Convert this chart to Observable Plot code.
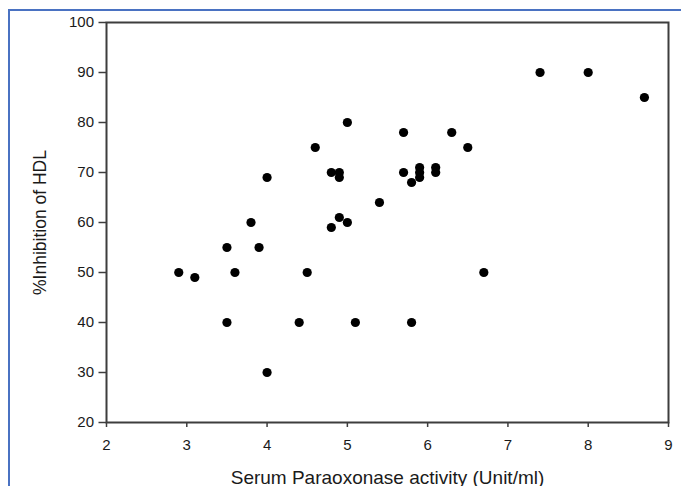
<!DOCTYPE html>
<html>
<head>
<meta charset="utf-8">
<script src="https://cdn.jsdelivr.net/npm/d3@7"></script>
<script src="https://cdn.jsdelivr.net/npm/@observablehq/plot@0.6"></script>
<style>
  html, body { margin: 0; padding: 0; background: #fff; }
  #wrap { position: relative; width: 681px; height: 486px; overflow: hidden; }
  #border { position: absolute; left: 8px; top: 9px; width: 2000px; height: 2000px;
            border-top: 2px solid #4a72c2; border-left: 2px solid #4a72c2; box-sizing: border-box; }
  #chart { position: absolute; left: 0; top: 0; }
  g[aria-label="x-axis label"] text { font-size: 19px; }
  g[aria-label="y-axis label"] text { font-size: 17.5px; }
  g[aria-label="x-axis tick label"] text, g[aria-label="y-axis tick label"] text { font-size: 15px; }
</style>
</head>
<body>
<div id="wrap"><div id="border"></div><div id="chart"></div></div>
<script>
// Serum paraoxonase activity (Unit/ml)
const paraoxonase = [2.9, 3.1, 3.5, 3.5, 3.6, 3.8, 3.9, 4.0, 4.0, 4.4, 4.5, 4.6, 4.8, 4.8, 4.9, 4.9, 4.9, 5.0, 5.0, 5.1, 5.4, 5.7, 5.7, 5.8, 5.8, 5.9, 5.9, 5.9, 6.1, 6.1, 6.3, 6.5, 6.7, 7.4, 8.0, 8.7];
// % inhibition of HDL
const inhibition = [50, 49, 55, 40, 50, 60, 55, 69, 30, 40, 50, 75, 70, 59, 70, 69, 61, 80, 60, 40, 64, 78, 70, 68, 40, 71, 70, 69, 71, 70, 78, 75, 50, 90, 90, 85];
const xTicks = [2, 3, 4, 5, 6, 7, 8, 9];
const yTicks = [20, 30, 40, 50, 60, 70, 80, 90, 100];
const xTitle = "Serum Paraoxonase activity (Unit/ml)";
const yTitle = "%Inhibition of HDL";

const data = paraoxonase.map((x, i) => ({x, y: inhibition[i]}));

const chart = Plot.plot({
  width: 681,
  height: 486,
  marginLeft: 106,
  marginRight: 13,
  marginTop: 22,
  marginBottom: 64,
  style: {fontFamily: "'Liberation Sans', Arial, sans-serif", fontSize: "15px", color: "#1a1a1a", background: "transparent", overflow: "visible"},
  x: {domain: [2, 9]},
  y: {domain: [20, 100]},
  marks: [
    Plot.frame({stroke: "#3d3d3d", strokeWidth: 2}),
    Plot.axisX({ticks: xTicks, tickFormat: d => String(d), tickSize: 5, tickPadding: 12, strokeWidth: 1.5, stroke: "#3d3d3d",
      label: xTitle, labelAnchor: "center", labelOffset: 61, labelArrow: "none"}),
    Plot.axisY({ticks: yTicks, tickFormat: d => String(d), tickSize: 7.5, tickPadding: 5, strokeWidth: 1.5, stroke: "#3d3d3d",
      label: yTitle, labelAnchor: "center", labelOffset: 73, labelArrow: "none"}),
    Plot.dot(data, {x: "x", y: "y", r: 4.6, fill: "#000", stroke: "none"})
  ]
});
document.getElementById("chart").append(chart);
</script>
</body>
</html>
